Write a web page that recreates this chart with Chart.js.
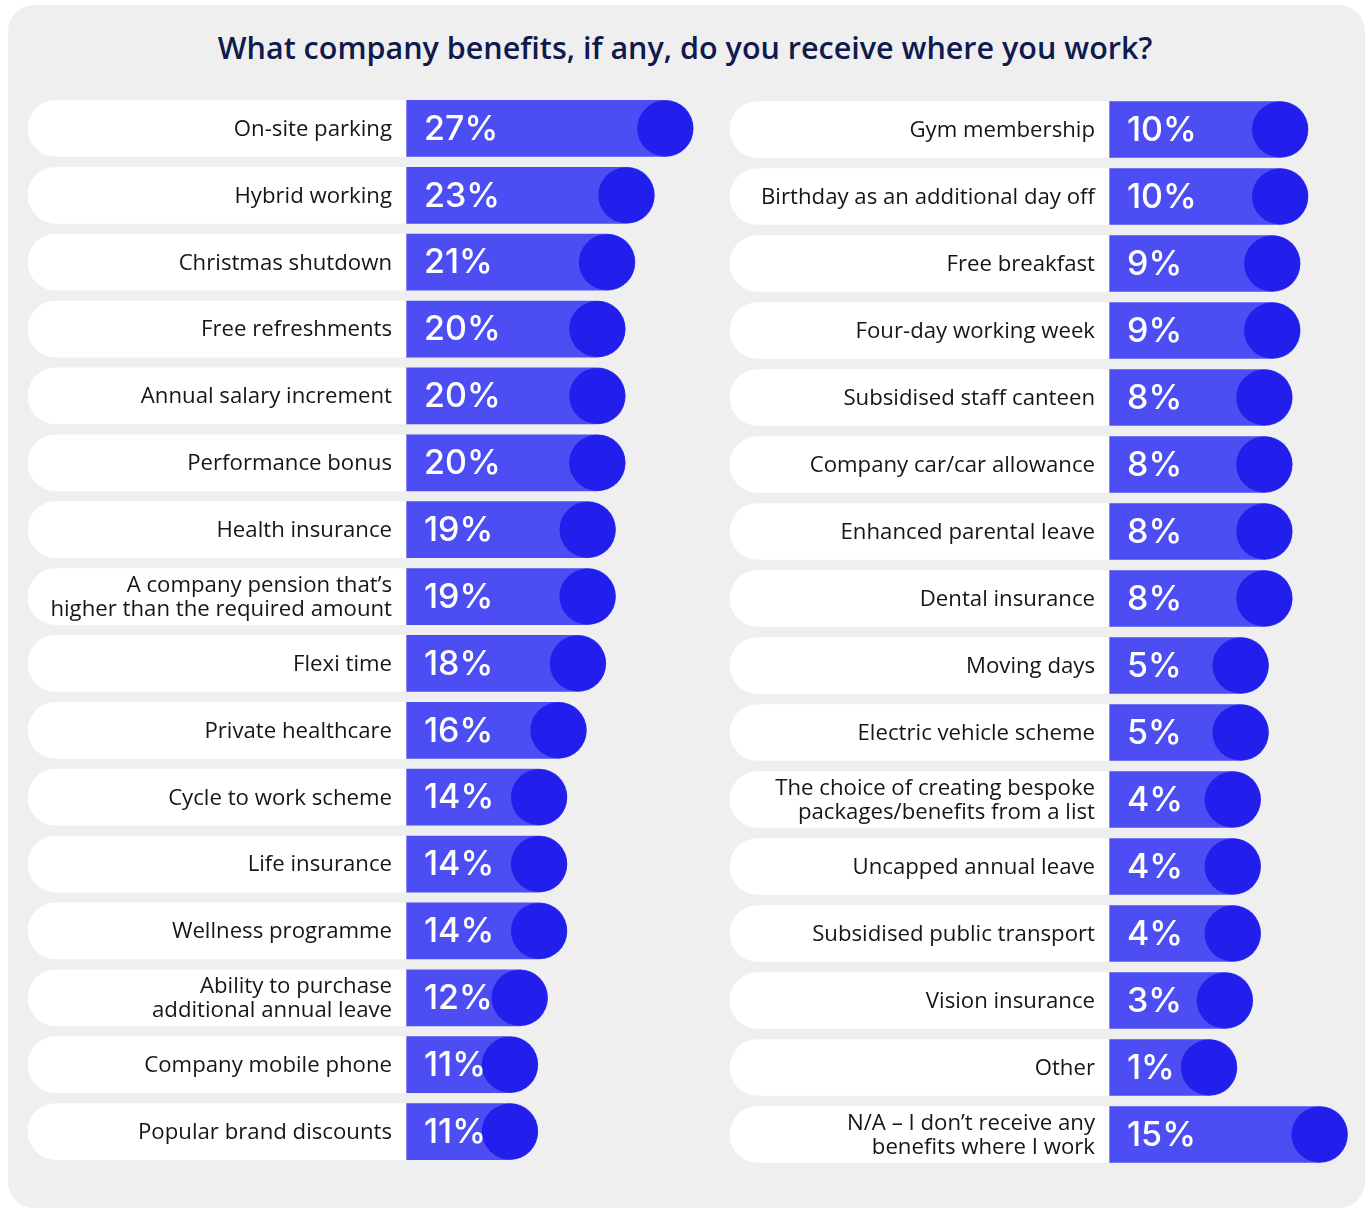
<!DOCTYPE html>
<html>
<head>
<meta charset="utf-8">
<script src="https://cdn.jsdelivr.net/npm/chart.js@4.4.1/dist/chart.umd.min.js"></script>
<style>
  html, body { margin: 0; padding: 0; background: #fff; }
  body { width: 1370px; height: 1209px; position: relative; overflow: hidden; }
  #panel { position: absolute; left: 8px; top: 5px; width: 1357px; height: 1203px; background: #efefef; border-radius: 26px; }
  h1 { position: absolute; left: 0; top: 26px; width: 1370px; margin: 0; text-align: center;
       font-family: 'Open Sans', sans-serif; font-size: 30.5px; font-weight: 600; color: #0f1a4e; }
  canvas { position: absolute; }
  #leftCol { left: 28px; top: 95px; }
  #rightCol { left: 730px; top: 96px; }
</style>
</head>
<body>
<div id="panel"></div>
<h1>What company benefits, if any, do you receive where you work?</h1>
<canvas id="leftCol" width="672" height="1070"></canvas>
<canvas id="rightCol" width="630" height="1072"></canvas>
<script>
// colonne de gauche
const leftLabels = [
  'On-site parking', 'Hybrid working', 'Christmas shutdown', 'Free refreshments',
  'Annual salary increment', 'Performance bonus', 'Health insurance',
  ['A company pension that\u2019s', 'higher than the required amount'],
  'Flexi time', 'Private healthcare', 'Cycle to work scheme', 'Life insurance',
  'Wellness programme', ['Ability to purchase', 'additional annual leave'],
  'Company mobile phone', 'Popular brand discounts'
];
const leftValues = [27, 23, 21, 20, 20, 20, 19, 19, 18, 16, 14, 14, 14, 12, 11, 11];

// colonne de droite
const rightLabels = [
  'Gym membership', 'Birthday as an additional day off', 'Free breakfast', 'Four-day working week',
  'Subsidised staff canteen', 'Company car/car allowance', 'Enhanced parental leave', 'Dental insurance',
  'Moving days', 'Electric vehicle scheme',
  ['The choice of creating bespoke', 'packages/benefits from a list'],
  'Uncapped annual leave', 'Subsidised public transport', 'Vision insurance', 'Other',
  ['N/A \u2013 I don\u2019t receive any', 'benefits where I work']
];
const rightValues = [10, 10, 9, 9, 8, 8, 8, 8, 5, 5, 4, 4, 4, 3, 1, 15];

const BAR_COLOR = '#4c4df3';
const DOT_COLOR = '#221fec';
const LABEL_FONT = '400 22.2px "Open Sans", sans-serif';
const PCT_FONT = '500 34px Inter, sans-serif';

// dessine le rond foncé, les libellés et les pourcentages
const decorPlugin = {
  id: 'decor',
  afterDatasetsDraw(chart) {
    const ctx = chart.ctx;
    const meta = chart.getDatasetMeta(1);
    const labels = chart.data.labels;
    const values = chart.data.datasets[1].values;
    meta.data.forEach((bar, i) => {
      const p = bar.getProps(['x', 'y', 'base', 'height'], true);
      // Chart.js peut inverser début et fin des barres flottantes
      const left = Math.min(p.x, p.base);
      const right = Math.max(p.x, p.base);
      const r = p.height / 2;
      ctx.save();
      ctx.fillStyle = DOT_COLOR;
      ctx.beginPath();
      ctx.arc(right - r, p.y, r, 0, Math.PI * 2);
      ctx.fill();

      // pourcentage
      ctx.fillStyle = '#ffffff';
      ctx.font = PCT_FONT;
      ctx.textAlign = 'left';
      ctx.textBaseline = 'middle';
      ctx.fillText(values[i] + '%', left + 18, p.y + 1);

      // libellé
      ctx.fillStyle = '#161616';
      ctx.font = LABEL_FONT;
      ctx.textAlign = 'right';
      const lines = Array.isArray(labels[i]) ? labels[i] : [labels[i]];
      const lh = 24;
      lines.forEach((line, k) => {
        const y = p.y + (k - (lines.length - 1) / 2) * lh + 1;
        ctx.fillText(line, left - 14, y);
      });
      ctx.restore();
    });
  }
};

function makeColumn(id, labels, values, labelPx, stubPx, pxPerPct) {
  const canvas = document.getElementById(id);
  const start = -stubPx / pxPerPct;            // début de la barre bleue
  const min = start - labelPx / pxPerPct;      // début de la pastille blanche
  const max = min + canvas.width / pxPerPct;

  new Chart(canvas.getContext('2d'), {
    type: 'bar',
    data: {
      labels: labels,
      datasets: [
        {
          data: labels.map(() => [min, start]),
          backgroundColor: '#ffffff',
          borderSkipped: false,
          borderRadius: { topLeft: 28, bottomLeft: 28, topRight: 0, bottomRight: 0 },
          barThickness: 56,
          grouped: false
        },
        {
          data: values.map(v => [start, v]),
          values: values,
          backgroundColor: BAR_COLOR,
          borderSkipped: false,
          borderRadius: { topLeft: 0, bottomLeft: 0, topRight: 28, bottomRight: 28 },
          barThickness: 56,
          grouped: false
        }
      ]
    },
    options: {
      indexAxis: 'y',
      responsive: false,
      animation: false,
      devicePixelRatio: 1,
      layout: { padding: 0 },
      scales: {
        x: { display: false, min: min, max: max },
        y: { display: false }
      },
      plugins: {
        legend: { display: false },
        tooltip: { enabled: false }
      }
    },
    plugins: [decorPlugin]
  });
}

makeColumn('leftCol', leftLabels, leftValues, 378, 25, 9.71);
makeColumn('rightCol', rightLabels, rightValues, 379, 120, 7.9);
</script>
</body>
</html>
